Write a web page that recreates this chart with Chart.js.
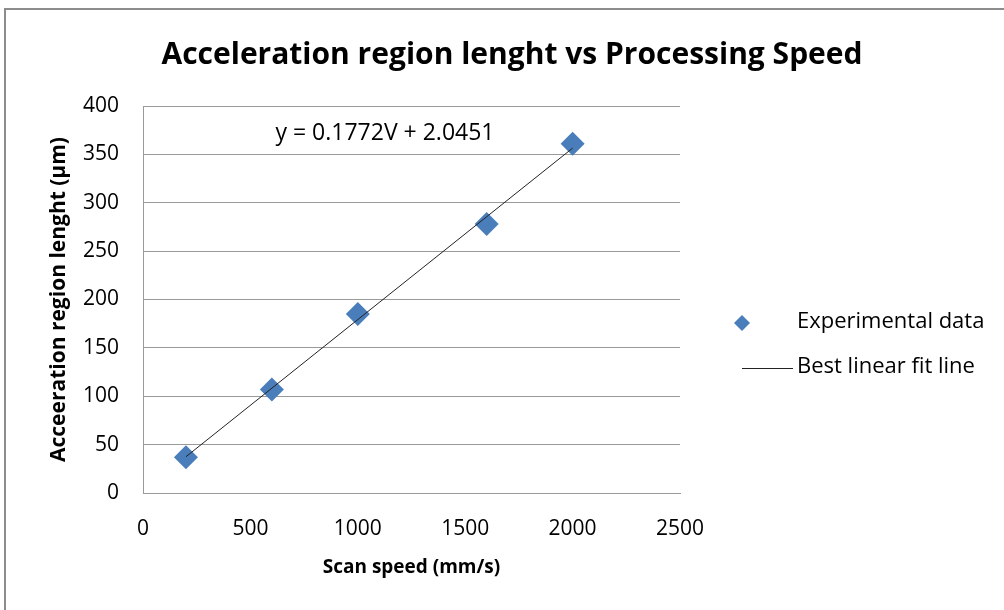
<!DOCTYPE html>
<html>
<head>
<meta charset="utf-8">
<script src="https://cdn.jsdelivr.net/npm/chart.js@4.4.1/dist/chart.umd.min.js"></script>
<style>
    html, body { margin: 0; padding: 0; background: #fff; }
    #wrap { position: relative; width: 1004px; height: 610px; }
</style>
</head>
<body>
<div id="wrap"><canvas id="speedChart" width="1004" height="610"></canvas></div>
<script>
// Measured acceleration region vs scan speed
const scanSpeeds = [200, 600, 1000, 1600, 2000];
const regionLengths = [37, 107, 185, 278, 361];

// Linear fit y = 0.1772V + 2.0451, drawn over the measured range
const fitSlope = 0.1772;
const fitIntercept = 2.0451;
const fitRange = [200, 2000];

const xTicks = [0, 500, 1000, 1500, 2000, 2500];
const yTicks = [0, 50, 100, 150, 200, 250, 300, 350, 400];

const FONT = '"Open Sans", Lato, sans-serif';
const markerColor = '#4a7ebb';

const experimental = scanSpeeds.map((v, i) => ({ x: v, y: regionLengths[i] }));
const fitLine = fitRange.map(v => ({ x: v, y: fitSlope * v + fitIntercept }));

// Title, equation, legend and outer frame
const decorations = {
    id: 'decorations',
    beforeDraw(chart) {
        const ctx = chart.ctx;
        ctx.save();
        ctx.strokeStyle = '#8c8c8c';
        ctx.lineWidth = 2;
        ctx.strokeRect(5, 9, 1020, 620);
        ctx.restore();
    },
    afterDraw(chart) {
        const ctx = chart.ctx;
        ctx.save();
        ctx.fillStyle = '#000';
        ctx.textBaseline = 'middle';

        ctx.font = 'bold 30px ' + FONT;
        ctx.textAlign = 'center';
        ctx.fillText('Acceleration region lenght vs Processing Speed', 512, 55);

        ctx.font = '23px ' + FONT;
        ctx.fillText('y = 0.1772V + 2.0451', 385, 133);

        // legend
        ctx.font = '22px ' + FONT;
        ctx.textAlign = 'left';
        ctx.fillText('Experimental data', 797, 322);
        ctx.fillText('Best linear fit line', 797, 367);

        ctx.fillStyle = markerColor;
        ctx.beginPath();
        ctx.moveTo(742, 315);
        ctx.lineTo(750, 323);
        ctx.lineTo(742, 331);
        ctx.lineTo(734, 323);
        ctx.closePath();
        ctx.fill();

        ctx.strokeStyle = '#222';
        ctx.lineWidth = 1;
        ctx.beginPath();
        ctx.moveTo(742, 368.5);
        ctx.lineTo(793, 368.5);
        ctx.stroke();
        ctx.restore();
    }
};

new Chart(document.getElementById('speedChart'), {
    type: 'scatter',
    data: {
        datasets: [{
            label: 'Experimental data',
            data: experimental,
            pointStyle: 'rectRot',
            pointRadius: 12,
            pointHoverRadius: 12,
            backgroundColor: markerColor,
            borderColor: markerColor,
            borderWidth: 0,
            order: 1
        }, {
            label: 'Best linear fit line',
            type: 'line',
            data: fitLine,
            showLine: true,
            borderColor: '#222',
            borderWidth: 1,
            pointRadius: 0,
            fill: false,
            order: 0
        }]
    },
    options: {
        responsive: false,
        animation: false,
        layout: { padding: { left: 40, right: 324, top: 106, bottom: 0 } },
        plugins: {
            legend: { display: false },
            title: { display: false },
            tooltip: { enabled: false }
        },
        scales: {
            x: {
                type: 'linear',
                min: 0,
                max: 2500,
                afterBuildTicks: s => { s.ticks = xTicks.map(v => ({ value: v })); },
                afterFit: s => { s.height = 117; },
                grid: { display: false, drawTicks: false },
                border: { display: true, color: '#9a9a9a', width: 1 },
                ticks: {
                    color: '#000',
                    padding: 23,
                    font: { family: FONT, size: 21 },
                    callback: v => String(v)
                },
                title: {
                    display: true,
                    text: 'Scan speed (mm/s)',
                    color: '#000',
                    font: { family: FONT, size: 19, weight: 'bold' },
                    padding: { top: 0, bottom: 31 }
                }
            },
            y: {
                type: 'linear',
                min: 0,
                max: 400,
                afterBuildTicks: s => { s.ticks = yTicks.map(v => ({ value: v })); },
                afterFit: s => { s.width = 103; },
                grid: { color: '#9a9a9a', lineWidth: 1, drawTicks: false },
                border: { display: true, color: '#9a9a9a', width: 1 },
                ticks: {
                    color: '#000',
                    padding: 24,
                    font: { family: FONT, size: 21 },
                    callback: v => String(v)
                },
                title: {
                    display: true,
                    text: 'Acceeration region lenght (μm)',
                    color: '#000',
                    font: { family: FONT, size: 21, weight: 'bold' },
                    padding: { top: 6, bottom: 0 }
                }
            }
        }
    },
    plugins: [decorations]
});
</script>
</body>
</html>
